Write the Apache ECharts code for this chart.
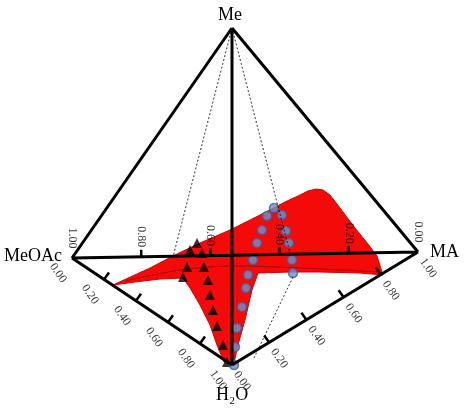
<!DOCTYPE html>
<html>
<head>
<meta charset="utf-8">
<script src="https://cdn.jsdelivr.net/npm/echarts@6/dist/echarts.min.js"></script>
<style>html,body{margin:0;padding:0;background:#fff}#main{width:464px;height:411px}</style>
</head>
<body>
<div id="main"></div>
<script>
// 四面体顶点（投影平面坐标）
var vMe = [232, 28], vMeOAc = [72, 258], vMA = [418, 252], vH2O = [232, 365];
var tickValues = [0, 0.2, 0.4, 0.6, 0.8, 1.0];
var tickLabels = ['0.00', '0.20', '0.40', '0.60', '0.80', '1.00'];

// 红色曲面轮廓
var surface = [[113,285],[150,268],[175,255],[200,243],[230,230],[260,215],[285,202],[298,196],[308,191],
  [316,189],[323,190],[330,195],[340,208],[355,228],[368,244],[377,256],[383,275],[360,273],[320,272],
  [290,272],[258,273],[252,290],[245,320],[238,345],[234,363],[224,362],[217,345],[210,325],[200,305],
  [190,288],[183,278],[160,279],[135,282]];
var shadeLine = [[125,281],[180,270],[230,266],[300,268],[380,272]];

// 实验点
var triangles = [[197,243],[190,250],[202,253],[187,267],[204,267],[183,277],[208,280],[210,295],
  [213,310],[217,326],[223,345],[227,362]];
var circles = [[274,208],[282,215],[267,216],[262,230],[286,231],[257,243],[289,243],[253,260],
  [292,260],[248,275],[293,273],[246,288],[242,307],[237,328],[235,347],[234,365]];

var dashed = [[vMe,[173,257]],[vMe,[290,253]],[[293,277],[253,360]]];

function lerp(a, b, t) { return [a[0] + (b[0] - a[0]) * t, a[1] + (b[1] - a[1]) * t]; }

var edges = [[vMe,vMeOAc],[vMe,vMA],[vMe,vH2O],[vMeOAc,vMA],[vMeOAc,vH2O],[vH2O,vMA]];
var tickSegs = [], tickTexts = [];
function addTick(p, rot, text) {
  tickTexts.push({value: p, label: {rotate: rot, formatter: text}});
}
// MeOAc-H2O 边
tickValues.forEach(function (t, i) {
  var p = lerp(vMeOAc, vH2O, t);
  if (i > 0 && i < 5) tickSegs.push([p, [p[0] + 5, p[1] - 7]]);
  addTick([p[0] - 14, p[1] + 15], -55, tickLabels[i]);
});
// H2O-MA 边
tickValues.forEach(function (t, i) {
  var p = lerp(vH2O, vMA, t);
  if (i > 0 && i < 5) tickSegs.push([p, [p[0] - 5, p[1] - 7]]);
  addTick([p[0] + 10, p[1] + 16], -55, tickLabels[i]);
});
// MeOAc-MA 边
tickValues.forEach(function (t, i) {
  var p = lerp(vMeOAc, vMA, t);
  if (i > 0 && i < 5) tickSegs.push([p, [p[0], p[1] - 7]]);
  addTick([p[0], p[1] - 20], -90, tickLabels[5 - i]);
});

function segSeries(list, w, type) {
  var data = [];
  list.forEach(function (s) { data.push(s[0], s[1], '-'); });
  return {type: 'line', data: data, symbol: 'none', silent: true,
    lineStyle: {color: '#000', width: w, type: type || 'solid'}};
}

var myChart = echarts.init(document.getElementById('main'));
var option = {
  animation: false,
  grid: {left: 0, right: 0, top: 0, bottom: 0},
  xAxis: {type: 'value', min: 0, max: 464, show: false},
  yAxis: {type: 'value', min: 0, max: 411, inverse: true, show: false},
  series: [
    segSeries(dashed, 0.8, [2, 2]),
    {
      type: 'custom', silent: true, data: [0],
      renderItem: function (params, api) {
        return {type: 'group', children: [
          {type: 'polygon', shape: {points: surface.map(function (p) { return api.coord(p); })},
            style: {fill: '#f50a0a', stroke: '#d00000', lineWidth: 1}},
          {type: 'polyline', shape: {points: shadeLine.map(function (p) { return api.coord(p); }), smooth: 0.3},
            style: {fill: null, stroke: '#b00000', lineWidth: 1}}
        ]};
      }
    },
    segSeries(edges, 3),
    segSeries(tickSegs, 2.5),
    {
      type: 'scatter', data: tickTexts, symbolSize: 0, silent: true,
      label: {show: true, position: 'inside', color: '#000', fontFamily: 'Liberation Serif', fontSize: 12}
    },
    {
      type: 'scatter', data: triangles, symbol: 'triangle', symbolSize: 10,
      itemStyle: {color: '#000'}
    },
    {
      type: 'scatter', data: circles, symbol: 'circle', symbolSize: 9,
      itemStyle: {color: '#7090c8', borderColor: '#3e5f9a', borderWidth: 1.5}
    }
  ],
  graphic: [
    {type: 'text', left: 218, top: 6, style: {text: 'Me', font: '18px Liberation Serif', fill: '#000'}},
    {type: 'text', left: 4, top: 247, style: {text: 'MeOAc', font: '18px Liberation Serif', fill: '#000'}},
    {type: 'text', left: 430, top: 243, style: {text: 'MA', font: '18px Liberation Serif', fill: '#000'}},
    {type: 'text', left: 216, top: 386, style: {text: 'H₂O', font: '18px Liberation Serif', fill: '#000'}}
  ]
};
myChart.setOption(option);
</script>
</body>
</html>
